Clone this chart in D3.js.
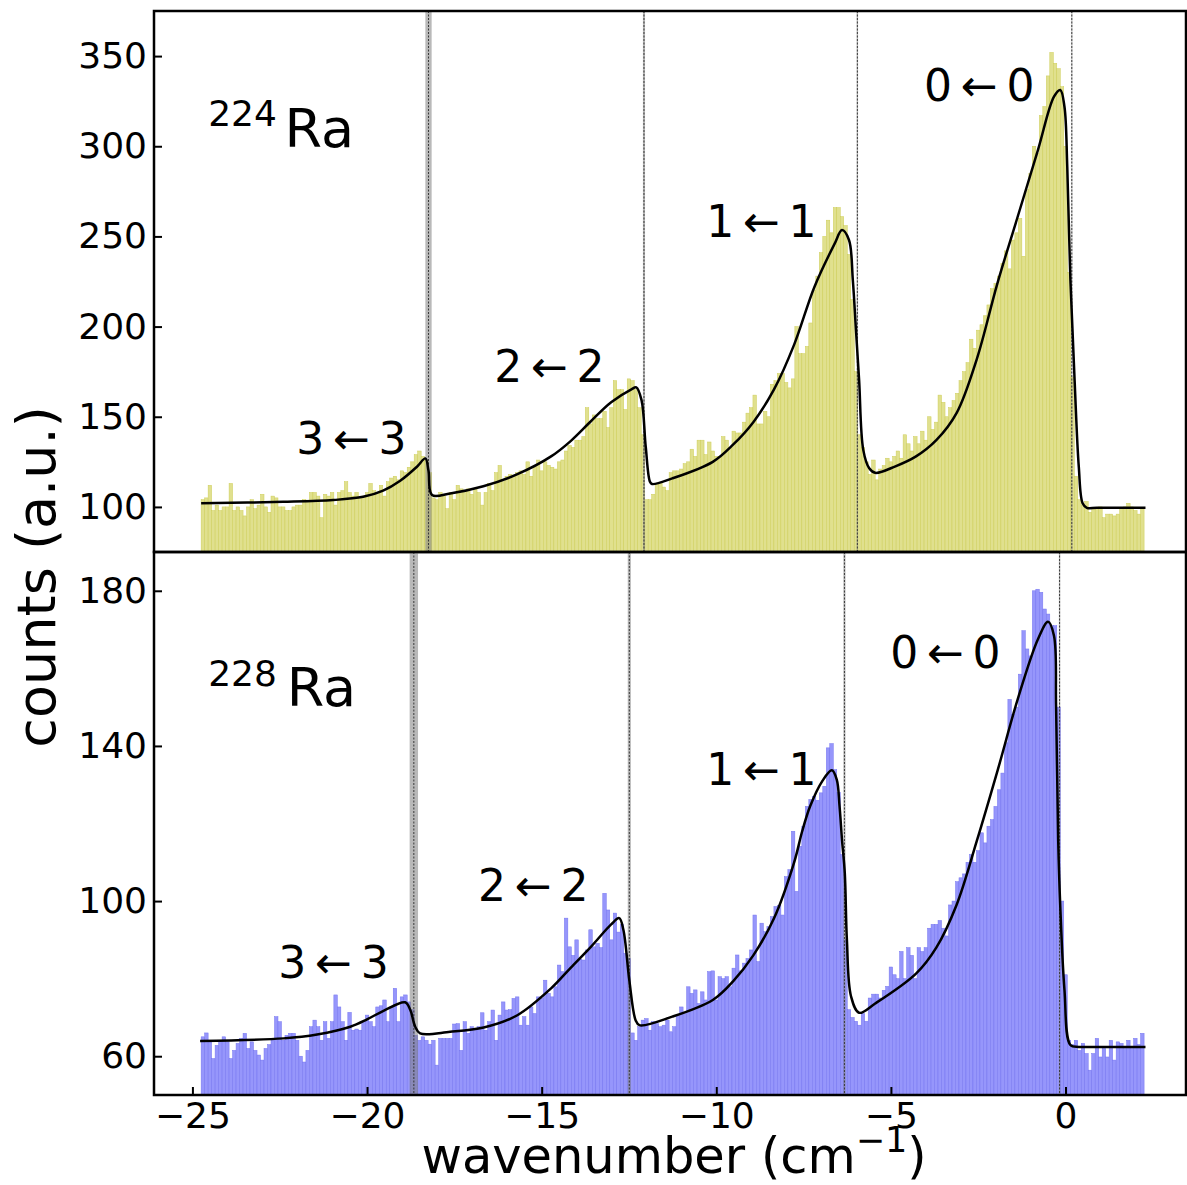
<!DOCTYPE html>
<html>
<head>
<meta charset="utf-8">
<script src="https://cdn.jsdelivr.net/npm/d3@7"></script>
<style>
  body { margin: 0; background: #fff; }
  text { font-family: 'DejaVu Sans', sans-serif; }
</style>
</head>
<body>
<script>
// histogram bins: first left edge and width (cm^-1)
const binStart = -24.75
const binWidth = 0.1

// 224Ra counts per bin (270 bins)
const counts224 = [
  104,105,112,98,101,98,100,100,113,98,
  100,98,95,100,104,99,101,107,100,97,
  106,105,100,100,98,98,100,101,101,104,
  103,108,108,106,94,107,106,108,101,108,
  109,114,108,106,108,105,106,108,113,109,
  108,112,106,114,116,117,115,120,119,122,
  125,129,131,128,126,119,105,104,108,106,
  99,108,104,112,110,109,110,107,110,108,
  101,108,113,109,119,123,114,117,118,117,
  119,120,118,125,117,122,126,120,125,123,
  122,121,125,126,131,134,133,137,137,139,
  155,146,151,149,149,153,144,155,170,165,
  165,154,171,170,165,155,140,104,104,107,
  113,113,111,109,119,120,120,121,124,125,
  132,128,137,137,129,136,131,128,128,139,
  137,133,142,141,141,147,152,155,162,146,
  146,153,150,168,170,174,174,169,166,171,
  200,185,185,189,202,220,228,241,250,259,
  252,266,266,261,256,240,215,175,140,133,
  125,118,126,115,121,123,127,125,128,131,
  127,140,135,131,139,135,142,137,150,143,
  147,162,158,150,155,159,163,170,175,180,
  193,188,198,201,206,212,221,224,228,235,
  242,232,248,252,260,239,276,285,300,296,
  317,322,339,352,346,343,333,300,230,172,
  117,104,101,103,97,99,99,100,94,96,
  96,95,96,99,100,102,100,98,96,99
]

// 228Ra counts per bin (270 bins)
const counts228 = [
  65.0,66.0,63.7,59.4,62.8,64.0,65.0,63.7,59.4,61.5,
  63.3,64.6,65.9,62.0,63.7,61.5,60.3,59.0,62.0,63.0,
  64.1,70.2,68.9,64.1,65.4,65.9,65.9,64.1,60.0,58.5,
  61.5,67.6,69.3,67.6,64.1,68.9,64.6,68.9,75.8,72.7,
  68.9,64.1,71.3,66.7,67.0,66.7,68.9,70.6,68.9,67.6,
  72.7,73.0,74.5,68.9,72.7,77.5,68.9,75.3,75.8,74.0,
  72.0,65.4,64.1,65.0,64.1,63.1,64.1,57.7,64.6,64.6,
  64.6,64.6,68.3,68.4,61.5,68.9,65.9,67.6,67.0,67.6,
  71.2,66.7,68.9,71.9,64.1,70.6,74.0,71.9,72.0,74.9,
  75.3,68.0,70.2,68.0,72.7,71.0,75.3,75.0,79.6,76.2,
  75.3,77.9,83.5,81.8,95.6,88.2,86.0,90.0,85.0,84.8,
  87.4,92.6,88.2,89.1,88.0,102.0,97.7,90.0,96.9,92.0,
  93.9,86.5,85.2,66.0,64.1,67.6,69.3,69.7,66.7,68.9,
  68.4,67.6,68.0,69.3,66.3,67.6,70.6,72.7,71.0,77.9,
  76.2,77.1,73.6,76.6,74.5,81.8,82.0,74.5,80.5,80.0,
  80.5,77.9,82.7,86.1,82.0,84.0,85.2,87.4,96.4,84.4,
  94.3,92.1,93.4,96.0,98.6,98.9,96.4,106.3,108.1,118.0,
  102.5,114.1,119.3,124.4,126.2,127.0,126.0,127.9,129.6,139.5,
  140.6,133.9,128.0,112.0,90.0,72.0,70.0,69.0,68.0,71.0,
  69,75,76,76,75,77,78,83,81,80,
  87,80,88,86,80,88,87,88,93,94,
  94,95,93,91,99,100,105,106,107,110,
  112,110,113,117.6,115,119.3,121,124.4,128.7,133,
  140.8,152,148.1,150,158.5,169.7,165,163.2,180,180.4,
  179.6,175.3,174,171,171,150,100,81,64,63,
  64.1,61.5,63.3,60.7,56.4,60.7,64.6,59.8,62,59.8,
  64.1,59,63.7,63.3,62,64.1,62,64.6,63,65.9
]

// fitted line shapes
const fit224X = [-24.75,-22.40,-20.97,-20.11,-19.54,-19.05,-18.57,-18.33,-18.24,-18.14,
  -17.62,-16.67,-15.71,-14.73,-14.17,-13.59,-13.01,-12.43,-12.29,-12.14,
  -12.02,-11.90,-11.84,-11.26,-10.10,-9.52,-8.94,-8.35,-7.77,-7.19,
  -6.61,-6.40,-6.20,-6.09,-6.00,-5.91,-5.79,-5.62,-5.45,-4.87,
  -4.28,-3.70,-3.12,-2.54,-1.95,-1.37,-0.79,-0.33,-0.15,-0.03,
  0.05,0.14,0.26,0.38,0.49,0.61,0.90,2.29]
const fit224Y = [102.0,102.8,103.8,105.6,109.0,114.5,122.3,126.9,120.0,106.6,
  107.5,111.5,118.0,128.0,136.5,147.5,158.0,165.2,166.3,159.2,
  133.4,114.0,112.7,115.8,125.0,134.5,147.0,165.0,190.0,222.0,
  246.0,253.5,248.0,225.8,198.0,170.3,131.5,121.4,118.9,122.5,
  128.0,137.0,152.0,182.0,224.0,260.9,297.9,327.5,331.2,321.9,
  288.6,225.8,170.3,122.3,102.0,99.5,99.5,99.5]

const fit228X = [-24.78,-22.39,-21.43,-20.48,-20.00,-19.53,-18.91,-18.76,-18.62,-18.48,
  -17.62,-16.66,-15.71,-14.73,-14.17,-13.59,-13.01,-12.78,-12.66,-12.49,
  -12.31,-12.20,-11.26,-10.10,-9.52,-8.94,-8.35,-7.77,-7.54,-7.31,
  -6.96,-6.69,-6.55,-6.47,-6.40,-6.32,-6.26,-6.14,-5.91,-5.45,
  -4.28,-3.70,-3.12,-2.54,-1.95,-1.37,-0.79,-0.50,-0.33,-0.27,
  -0.21,-0.15,-0.03,0.14,0.38,0.70,2.29]
const fit228Y = [63.9,64.6,65.6,67.6,69.5,71.7,73.9,71.9,67.6,65.9,
  66.3,67.4,70.5,77.5,82.8,88.2,94.0,95.6,92.6,79.6,
  69.3,68.0,70.2,74.5,79.3,86.0,95.5,110.0,118.0,124.5,
  131.0,133.7,131.3,124.4,115.8,107.2,90.0,75.4,71.2,73.6,
  81.3,88.0,99.0,115.5,133.5,152.0,167.5,172.0,168.4,150.3,
  115.8,98.6,77.1,62.9,62.4,62.4,62.4]

// band-head positions and their uncertainties
const lines224 = [-18.24, -12.07, -5.96, 0.18]
const errs224 = [0.09, 0.03, 0.02, 0.012]
const lines228 = [-18.66, -12.49, -6.33, -0.17]
const errs228 = [0.12, 0.045, 0.03, 0.02]

// tick values and text
const xTicks = [-25, -20, -15, -10, -5, 0]
const yTicks224 = [100, 150, 200, 250, 300, 350]
const yTicks228 = [60, 100, 140, 180]
const transitions = ['3\u2009\u2190\u20093', '2\u2009\u2190\u20092', '1\u2009\u2190\u20091', '0\u2009\u2190\u20090']
const isotopes = ['224', '228']

// canvas
let width = 1187, height = 1185
let margin = { left: 154, right: 1, top: 11, bottom: 90 }
let midY = 552

let svg = d3.select('body')
  .append('svg')
  .attr('width', width)
  .attr('height', height)

let xScale = d3.scaleLinear()
  .domain([-26.1, 3.45])
  .range([margin.left, width - margin.right])

let panels = [
  { counts: counts224, fitX: fit224X, fitY: fit224Y, lines: lines224, errs: errs224,
    yDomain: [75, 375], yTicks: yTicks224, top: margin.top, bottom: midY,
    fill: '#e0e08e', edge: '#cdcd58', iso: isotopes[0],
    labelAt: [[-22.03, 129.3], [-16.36, 169.4], [-10.29, 249.8], [-4.05, 325.2]],
    isoAt: [-24.55, 311.2], raAt: [-22.36, 299.6] },
  { counts: counts228, fitX: fit228X, fitY: fit228Y, lines: lines228, errs: errs228,
    yDomain: [50, 190], yTicks: yTicks228, top: midY, bottom: height - margin.bottom,
    fill: '#9696fb', edge: '#7474f0', iso: isotopes[1],
    labelAt: [[-22.54, 80.2], [-16.82, 100.1], [-10.29, 130.0], [-5.02, 160.0]],
    isoAt: [-24.55, 155.4], raAt: [-22.30, 150.3] }
]

panels.forEach((p, k) => {
  let yScale = d3.scaleLinear()
    .domain(p.yDomain)
    .range([p.bottom, p.top])

  svg.append('clipPath').attr('id', 'clip' + k)
    .append('rect')
    .attr('x', margin.left).attr('y', p.top)
    .attr('width', width - margin.right - margin.left)
    .attr('height', p.bottom - p.top)

  let g = svg.append('g').attr('clip-path', `url(#clip${k})`)

  // histogram bars
  g.selectAll('rect.bar')
    .data(p.counts)
    .enter()
    .append('rect')
    .attr('class', 'bar')
    .attr('x', (d, i) => xScale(binStart + i * binWidth))
    .attr('width', (d, i) => xScale(binStart + (i + 1) * binWidth) - xScale(binStart + i * binWidth))
    .attr('y', d => yScale(d))
    .attr('height', d => yScale(p.yDomain[0]) - yScale(d))
    .attr('fill', p.fill)
    .attr('stroke', p.edge)
    .attr('stroke-width', 0.5)

  // uncertainty bands + centre lines
  g.selectAll('rect.band')
    .data(p.lines)
    .enter()
    .append('rect')
    .attr('class', 'band')
    .attr('x', (d, i) => xScale(d - p.errs[i]))
    .attr('width', (d, i) => Math.max(1, xScale(d + p.errs[i]) - xScale(d - p.errs[i])))
    .attr('y', p.top)
    .attr('height', p.bottom - p.top)
    .attr('fill', '#808080')
    .attr('opacity', 0.55)

  g.selectAll('line.vl')
    .data(p.lines)
    .enter()
    .append('line')
    .attr('x1', d => xScale(d)).attr('x2', d => xScale(d))
    .attr('y1', p.top).attr('y2', p.bottom)
    .attr('stroke', '#3a3a3a')
    .attr('stroke-width', 1)
    .attr('stroke-dasharray', '2,1.5')

  // fit curve
  let line = d3.line()
    .x(d => xScale(d[0]))
    .y(d => yScale(d[1]))
    .curve(d3.curveCatmullRom.alpha(0.5))

  g.append('path')
    .datum(p.fitX.map((x, i) => [x, p.fitY[i]]))
    .attr('d', line)
    .attr('fill', 'none')
    .attr('stroke', 'black')
    .attr('stroke-width', 2.5)

  // y axis (ticks inside)
  let yAxis = svg.append('g')
    .attr('transform', `translate(${margin.left}, 0)`)
    .call(d3.axisLeft(yScale).tickValues(p.yTicks).tickSize(-8).tickPadding(7).tickFormat(d3.format('d')))
  yAxis.select('.domain').remove()
  yAxis.selectAll('line').attr('stroke-width', 2)
  yAxis.selectAll('text').style('font-size', '36px').attr('fill', 'black')

  // frame
  svg.append('rect')
    .attr('x', margin.left).attr('y', p.top)
    .attr('width', width - margin.right - margin.left)
    .attr('height', p.bottom - p.top)
    .attr('fill', 'none')
    .attr('stroke', 'black')
    .attr('stroke-width', 2.5)

  // transition labels
  svg.selectAll(null)
    .data(transitions)
    .enter()
    .append('text')
    .attr('x', (d, i) => xScale(p.labelAt[i][0]))
    .attr('y', (d, i) => yScale(p.labelAt[i][1]))
    .text(d => d)
    .style('font-size', '44px')

  // isotope label
  svg.append('text')
    .attr('x', xScale(p.isoAt[0]))
    .attr('y', yScale(p.isoAt[1]))
    .text(p.iso)
    .style('font-size', '36px')
  svg.append('text')
    .attr('x', xScale(p.raAt[0]))
    .attr('y', yScale(p.raAt[1]))
    .text('Ra')
    .style('font-size', '54px')
})

// x axis on the lower panel only
let xAxis = svg.append('g')
  .attr('transform', `translate(0, ${height - margin.bottom})`)
  .call(d3.axisBottom(xScale).tickValues(xTicks).tickSize(-8).tickPadding(7).tickFormat(d3.format('d')))
xAxis.select('.domain').remove()
xAxis.selectAll('line').attr('stroke-width', 2)
xAxis.selectAll('text').style('font-size', '36px').attr('fill', 'black')

// axis titles
let xLabel = svg.append('text')
  .attr('x', 674)
  .attr('y', 1173)
  .style('text-anchor', 'middle')
  .style('font-size', '49.5px')
xLabel.append('tspan').text('wavenumber (cm')
xLabel.append('tspan').text('\u22121').style('font-size', '35px').attr('dy', -21)
xLabel.append('tspan').text(')').attr('dy', 21)

svg.append('text')
  .attr('transform', 'translate(55, 577) rotate(-90)')
  .style('text-anchor', 'middle')
  .style('font-size', '54px')
  .text('counts (a.u.)')
</script>
</body>
</html>
